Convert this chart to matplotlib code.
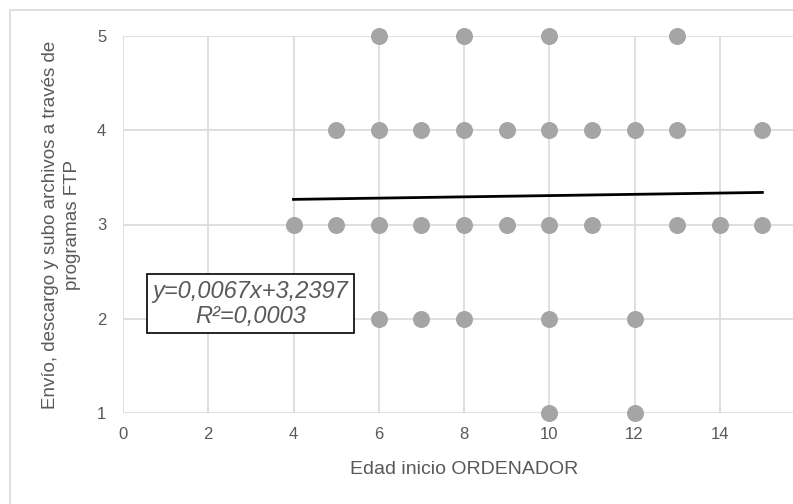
import matplotlib
matplotlib.use("Agg")
import matplotlib.pyplot as plt
from matplotlib.patches import Rectangle

plt.rcParams['font.family'] = ['Liberation Sans', 'DejaVu Sans']

# Age when starting to use a computer vs. FTP usage score (1-5)
edad = [6, 8, 10, 13,
        5, 6, 7, 8, 9, 10, 11, 12, 13, 15,
        4, 5, 6, 7, 8, 9, 10, 11, 13, 14, 15,
        6, 7, 8, 10, 12,
        10, 12]
ftp = [5, 5, 5, 5,
       4, 4, 4, 4, 4, 4, 4, 4, 4, 4,
       3, 3, 3, 3, 3, 3, 3, 3, 3, 3, 3,
       2, 2, 2, 2, 2,
       1, 1]

# Linear trend line coefficients
pendiente = 0.0067
intercepto = 3.2397
r2 = 0.0003
x_tendencia = [min(edad), max(edad)]
y_tendencia = [pendiente * x + intercepto for x in x_tendencia]

xticks = [0, 2, 4, 6, 8, 10, 12, 14]
yticks = [1, 2, 3, 4, 5]

W, H = 793, 504
fig = plt.figure(figsize=(W / 100, H / 100), dpi=100)

# Outer chart border (light grey)
fig.patches.append(Rectangle((10 / W, -0.1), 1.2, (H - 10) / H + 0.1,
                             transform=fig.transFigure, fill=False,
                             edgecolor='#d9d9d9', linewidth=1.2))

left, right = 123, 805
top, bottom = 36, 413
ax = fig.add_axes([left / W, (H - bottom) / H, (right - left) / W, (bottom - top) / H])
ax.set_xlim(0, 16)
ax.set_ylim(1, 5)
ax.set_xticks(xticks)
ax.set_yticks(yticks)
ax.grid(True, color='#d9d9d9', linewidth=1.2)
ax.set_axisbelow(True)
for s in ax.spines.values():
    s.set_visible(False)
ax.tick_params(length=0, labelsize=12, labelcolor='#595959')
ax.tick_params(axis='y', pad=12)
ax.tick_params(axis='x', pad=10)

ax.scatter(edad, ftp, s=150, color='#a5a5a5', zorder=3, linewidths=0, clip_on=False)
ax.plot(x_tendencia, y_tendencia, color='black', linewidth=2, zorder=4)

ax.set_xlabel('Edad inicio ORDENADOR', fontsize=14, color='#595959', labelpad=14)
ax.set_ylabel('Envío, descargo y subo archivos a través de\nprogramas FTP',
              fontsize=13.5, color='#595959', linespacing=1.35)
ax.yaxis.set_label_coords(-0.0616, 0.5)

eq = (f"y={pendiente:.4f}x+{intercepto:.4f}".replace('.', ',') + "\n" +
      f"R²={r2:.4f}".replace('.', ','))
ax.text(2.99, 2.16, eq, ha='center', va='center', fontsize=17, style='italic',
        color='#595959', linespacing=1.1, zorder=5,
        bbox=dict(boxstyle='square,pad=0.25', facecolor='white', edgecolor='black', linewidth=1.2))

fig.savefig('out.png', dpi=100)
